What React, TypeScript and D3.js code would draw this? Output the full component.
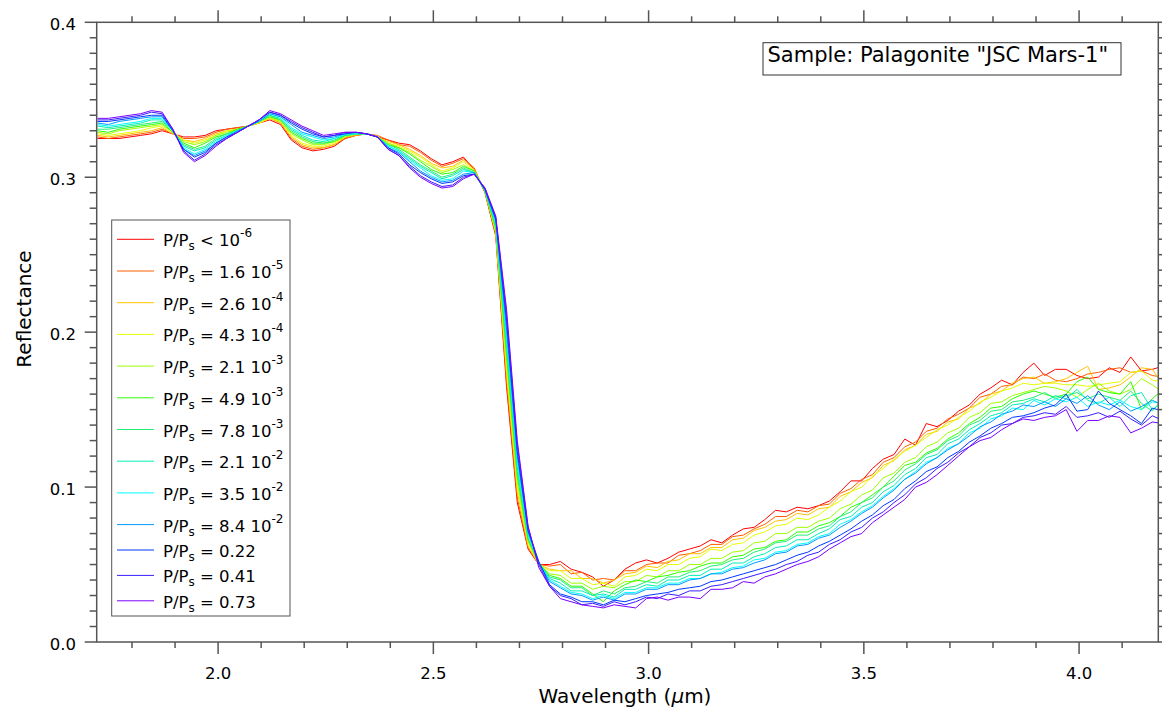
import React from 'react';
import * as d3 from 'd3';

const WAVELENGTH = [1.72,1.745,1.77,1.795,1.82,1.845,1.87,1.895,1.92,1.945,1.97,1.995,2.02,2.045,2.07,2.095,2.12,2.145,2.17,2.195,2.22,2.245,2.27,2.295,2.32,2.345,2.37,2.395,2.42,2.445,2.47,2.495,2.52,2.545,2.57,2.595,2.62,2.645,2.67,2.695,2.72,2.745,2.77,2.795,2.82,2.845,2.87,2.895,2.92,2.945,2.97,2.995,3.02,3.045,3.07,3.095,3.12,3.145,3.17,3.195,3.22,3.245,3.27,3.295,3.32,3.345,3.37,3.395,3.42,3.445,3.47,3.495,3.52,3.545,3.57,3.595,3.62,3.645,3.67,3.695,3.72,3.745,3.77,3.795,3.82,3.845,3.87,3.895,3.92,3.945,3.97,3.995,4.02,4.045,4.07,4.095,4.12,4.145,4.17,4.195];

const R_LT_1E6 = [.325,.325,.325,.326,.327,.328,.330,.328,.326,.326,.327,.330,.331,.332,.333,.335,.337,.334,.324,.319,.317,.318,.320,.325,.327,.328,.326,.324,.322,.321,.317,.312,.308,.310,.313,.305,.290,.262,.165,.090,.060,.050,
.050,.052,.047,.045,.042,.036,.040,.047,.051,.053,.051,.054,.058,.060,.062,.066,.064,.069,.073,.074,.079,.085,.084,.087,.086,.088,.091,.097,.104,.104,.112,.118,.121,.131,.127,.141,.139,.143,.149,.153,.160,.164,.169,.166,.174,.180,.172,.176,.176,.172,.170,.171,.177,.174,.184,.175,.176,.178];
const R_1_6E5 = [.326,.325,.326,.327,.328,.329,.331,.328,.325,.325,.326,.329,.331,.332,.333,.335,.338,.335,.325,.320,.318,.319,.321,.325,.327,.328,.327,.324,.321,.320,.316,.311,.307,.309,.312,.306,.290,.263,.169,.093,.061,.050,
.049,.050,.044,.045,.040,.041,.040,.046,.046,.050,.051,.051,.056,.057,.059,.063,.063,.068,.069,.073,.076,.081,.081,.085,.084,.088,.089,.096,.099,.105,.108,.116,.119,.126,.129,.136,.138,.144,.147,.151,.158,.160,.165,.166,.171,.170,.173,.169,.168,.170,.173,.174,.176,.177,.174,.175,.172,.171];
const R_2_6E4 = [.327,.326,.327,.328,.329,.330,.332,.328,.324,.323,.325,.328,.330,.331,.333,.335,.338,.335,.326,.321,.319,.319,.321,.326,.327,.328,.326,.323,.321,.318,.314,.309,.306,.307,.311,.305,.291,.264,.173,.097,.062,.050,
.047,.046,.046,.041,.041,.038,.040,.044,.045,.049,.048,.052,.053,.057,.057,.061,.061,.066,.067,.072,.074,.078,.079,.083,.082,.086,.087,.094,.097,.103,.106,.114,.117,.124,.127,.134,.136,.142,.144,.151,.154,.160,.162,.167,.170,.171,.167,.168,.170,.174,.178,.163,.164,.166,.171,.177,.176,.166];
const R_4_3E4 = [.328,.327,.328,.329,.330,.332,.333,.329,.324,.322,.324,.327,.330,.331,.333,.335,.338,.336,.327,.322,.320,.320,.322,.326,.328,.328,.326,.322,.320,.317,.313,.308,.304,.306,.310,.304,.291,.265,.177,.100,.064,.050,
.046,.046,.041,.041,.037,.038,.036,.042,.043,.047,.046,.050,.050,.054,.055,.060,.059,.063,.064,.069,.071,.075,.076,.080,.079,.082,.087,.091,.097,.100,.107,.112,.118,.123,.127,.132,.137,.140,.145,.149,.155,.158,.162,.164,.167,.166,.167,.167,.166,.166,.165,.166,.167,.168,.174,.175,.169,.168];
const R_2_1E3 = [.329,.328,.330,.331,.332,.333,.334,.329,.323,.321,.323,.327,.329,.331,.333,.336,.339,.336,.328,.324,.321,.321,.323,.326,.328,.328,.326,.322,.319,.316,.311,.307,.303,.305,.308,.304,.291,.266,.182,.103,.065,.050,
.044,.043,.038,.038,.034,.036,.035,.039,.039,.043,.042,.046,.046,.050,.050,.054,.054,.058,.059,.064,.065,.070,.070,.074,.074,.078,.080,.086,.089,.095,.098,.106,.109,.116,.119,.126,.129,.135,.138,.145,.148,.154,.155,.159,.161,.163,.165,.164,.162,.158,.163,.167,.162,.160,.163,.170,.166,.161];
const R_4_9E3 = [.330,.329,.331,.332,.333,.334,.335,.329,.322,.319,.322,.326,.328,.331,.333,.336,.339,.337,.329,.325,.322,.322,.323,.327,.328,.328,.326,.321,.319,.315,.310,.305,.302,.303,.307,.304,.291,.267,.186,.107,.066,.051,
.043,.041,.036,.036,.031,.026,.033,.037,.040,.039,.042,.043,.045,.046,.049,.051,.051,.055,.056,.060,.061,.065,.066,.071,.071,.075,.077,.081,.087,.090,.095,.100,.107,.114,.116,.122,.125,.131,.135,.141,.145,.151,.152,.157,.160,.162,.160,.158,.160,.168,.171,.163,.161,.160,.168,.150,.157,.163];
const R_7_8E3 = [.331,.331,.332,.333,.334,.335,.336,.330,.321,.318,.320,.325,.328,.330,.333,.336,.340,.337,.330,.326,.323,.322,.324,.327,.328,.328,.326,.321,.318,.313,.308,.304,.300,.302,.306,.303,.291,.268,.190,.110,.067,.051,
.042,.040,.035,.035,.030,.033,.031,.035,.036,.039,.038,.042,.042,.045,.046,.049,.050,.053,.054,.058,.060,.064,.065,.069,.069,.073,.075,.081,.084,.090,.093,.100,.104,.111,.115,.121,.124,.130,.133,.140,.143,.149,.150,.155,.156,.158,.161,.157,.159,.161,.157,.160,.158,.156,.162,.154,.149,.157];
const R_2_1E2 = [.333,.332,.333,.334,.335,.337,.337,.330,.320,.317,.319,.324,.327,.330,.333,.336,.340,.338,.331,.327,.324,.323,.325,.327,.328,.328,.326,.320,.317,.312,.307,.303,.299,.301,.305,.303,.292,.270,.194,.113,.069,.051,
.041,.038,.033,.033,.030,.031,.029,.034,.034,.037,.036,.040,.040,.043,.043,.047,.047,.051,.051,.055,.057,.061,.062,.066,.066,.070,.073,.079,.081,.087,.090,.097,.101,.108,.112,.119,.121,.128,.131,.137,.141,.146,.148,.153,.154,.157,.155,.159,.157,.163,.156,.154,.158,.152,.159,.161,.150,.155];
const R_3_5E2 = [.334,.333,.334,.335,.336,.338,.338,.330,.319,.315,.318,.323,.327,.330,.333,.336,.341,.339,.332,.328,.326,.324,.325,.328,.328,.328,.326,.320,.317,.311,.306,.301,.298,.299,.304,.303,.292,.271,.198,.117,.070,.051,
.040,.036,.032,.031,.028,.030,.028,.032,.032,.035,.035,.038,.038,.041,.041,.044,.045,.048,.049,.053,.054,.058,.059,.063,.064,.068,.070,.076,.079,.084,.088,.094,.099,.105,.110,.116,.119,.125,.128,.135,.138,.144,.146,.151,.150,.156,.153,.157,.155,.158,.152,.155,.153,.156,.152,.150,.155,.154];
const R_8_4E2 = [.335,.334,.336,.337,.338,.339,.339,.330,.318,.314,.317,.322,.326,.330,.333,.336,.341,.339,.334,.329,.327,.325,.326,.328,.329,.328,.326,.319,.316,.310,.304,.300,.297,.298,.302,.303,.292,.272,.202,.120,.071,.051,
.039,.035,.031,.030,.027,.029,.027,.031,.031,.034,.034,.037,.037,.040,.041,.044,.044,.047,.048,.051,.053,.057,.058,.062,.063,.067,.069,.074,.078,.083,.087,.093,.098,.105,.109,.115,.119,.124,.128,.133,.139,.142,.147,.149,.153,.152,.155,.152,.157,.154,.159,.153,.150,.155,.149,.152,.156,.153];
const R_0_22 = [.336,.336,.337,.338,.339,.340,.340,.330,.318,.313,.316,.322,.326,.329,.333,.337,.342,.340,.335,.331,.328,.326,.327,.328,.329,.328,.326,.319,.315,.308,.303,.299,.296,.297,.301,.302,.292,.273,.207,.123,.072,.052,
.037,.031,.029,.026,.026,.024,.027,.026,.028,.030,.031,.032,.034,.035,.036,.039,.040,.042,.044,.046,.048,.050,.053,.056,.058,.062,.065,.069,.073,.078,.082,.088,.092,.099,.104,.110,.113,.119,.123,.129,.133,.138,.141,.145,.146,.148,.151,.153,.160,.149,.150,.162,.154,.150,.146,.141,.151,.149];
const R_0_41 = [.337,.337,.338,.339,.340,.342,.341,.331,.317,.311,.315,.321,.325,.329,.333,.337,.342,.340,.336,.332,.329,.326,.327,.329,.329,.328,.326,.318,.314,.307,.301,.297,.294,.295,.300,.302,.293,.274,.211,.127,.074,.050,
.036,.030,.028,.024,.025,.023,.026,.024,.026,.029,.028,.031,.030,.033,.033,.036,.037,.039,.041,.043,.045,.047,.050,.052,.056,.058,.063,.066,.071,.074,.080,.084,.090,.095,.102,.106,.112,.116,.122,.126,.132,.135,.140,.141,.145,.146,.148,.147,.152,.145,.146,.148,.145,.149,.144,.140,.146,.143];
const R_0_73 = [.338,.338,.339,.340,.341,.343,.342,.331,.316,.310,.314,.320,.325,.329,.333,.337,.343,.341,.337,.333,.330,.327,.328,.329,.329,.328,.326,.318,.314,.306,.300,.296,.293,.294,.299,.302,.293,.275,.215,.130,.075,.048,
.036,.028,.026,.024,.023,.022,.024,.023,.022,.028,.029,.027,.029,.029,.028,.034,.034,.035,.039,.038,.042,.044,.047,.050,.052,.055,.060,.064,.068,.070,.077,.082,.087,.092,.100,.103,.108,.114,.120,.126,.130,.132,.137,.141,.144,.143,.145,.146,.150,.136,.143,.143,.146,.145,.135,.138,.142,.141];

const SERIES = [R_LT_1E6, R_1_6E5, R_2_6E4, R_4_3E4, R_2_1E3, R_4_9E3, R_7_8E3, R_2_1E2, R_3_5E2, R_8_4E2, R_0_22, R_0_41, R_0_73];
const COLORS = ['#ff0000', '#ff5c00', '#ffc400', '#e4ff00', '#9cff00', '#2cff00', '#22ee77', '#00f0b4', '#00ffff', '#0099ff', '#0038ff', '#3a1cff', '#7a00ff'];
const LEGEND_OP = ['<', '=', '=', '=', '=', '=', '=', '=', '=', '=', '=', '=', '='];
const LEGEND_VALUE = ['10', '1.6 10', '2.6 10', '4.3 10', '2.1 10', '4.9 10', '7.8 10', '2.1 10', '3.5 10', '8.4 10', '0.22', '0.41', '0.73'];
const LEGEND_EXP = ['-6', '-5', '-4', '-4', '-3', '-3', '-3', '-2', '-2', '-2', '', '', ''];
const X_MAJOR = [2.0, 2.5, 3.0, 3.5, 4.0];
const Y_MAJOR = [0.0, 0.1, 0.2, 0.3, 0.4];

const FONT = "'DejaVu Sans', Verdana, sans-serif";

export default function App() {
  const L = 96.7, R = 1158.3, T = 22.3, B = 642;
  const x = d3.scaleLinear().domain([1.718, 4.184]).range([L, R]);
  const y = d3.scaleLinear().domain([0, 0.4]).range([B, T]);
  const line = d3.line<number>().x((_, i) => x(WAVELENGTH[i])).y((d) => y(d));

  const xMinor = d3.range(18, 42).map((v) => v / 10).filter((v) => X_MAJOR.every((m) => Math.abs(m - v) > 1e-6));
  const yMinor = d3.range(0, 41).map((v) => v / 100).filter((v) => Y_MAJOR.every((m) => Math.abs(m - v) > 1e-6));
  const axisColor = '#555';

  const legendY: number[] = [];
  let cy = 239.3;
  LEGEND_EXP.forEach((e, i) => {
    if (i > 0) cy += e ? 31.7 : 25.4;
    legendY.push(cy);
  });

  return (
    <svg width={1162} height={711} style={{ position: 'absolute', left: 0, top: 0, background: '#fff' }} fontFamily={FONT}>
      <defs>
        <clipPath id="plotclip">
          <rect x={L} y={T} width={R - L} height={B - T} />
        </clipPath>
      </defs>
      <rect x={0} y={0} width={1162} height={711} fill="#fff" />

      <g clipPath="url(#plotclip)">
        {SERIES.map((s, k) => (
          <path key={k} d={line(s) || ''} fill="none" stroke={COLORS[k]} strokeWidth={1} strokeLinejoin="round" />
        ))}
      </g>

      <rect x={L} y={T} width={R - L} height={B - T} fill="none" stroke={axisColor} strokeWidth={1.5} />

      {X_MAJOR.map((v) => (
        <g key={'xM' + v}>
          <line x1={x(v)} x2={x(v)} y1={B} y2={B + 12} stroke={axisColor} strokeWidth={1.5} />
          <line x1={x(v)} x2={x(v)} y1={T} y2={T - 12} stroke={axisColor} strokeWidth={1.5} />
          <text x={x(v)} y={679} textAnchor="middle" fontSize={16.5} fill="#000">{v.toFixed(1)}</text>
        </g>
      ))}
      {xMinor.map((v) => (
        <g key={'xm' + v}>
          <line x1={x(v)} x2={x(v)} y1={B} y2={B + 6} stroke={axisColor} strokeWidth={1.5} />
          <line x1={x(v)} x2={x(v)} y1={T} y2={T - 6} stroke={axisColor} strokeWidth={1.5} />
        </g>
      ))}

      {Y_MAJOR.map((v) => (
        <g key={'yM' + v}>
          <line x1={L} x2={L - 12} y1={y(v)} y2={y(v)} stroke={axisColor} strokeWidth={1.5} />
          <line x1={R} x2={R + 12} y1={y(v)} y2={y(v)} stroke={axisColor} strokeWidth={1.5} />
          <text x={76} y={y(v) + 8} textAnchor="end" fontSize={16.5} fill="#000">{v.toFixed(1)}</text>
        </g>
      ))}
      {yMinor.map((v) => (
        <g key={'ym' + v}>
          <line x1={L} x2={L - 7} y1={y(v)} y2={y(v)} stroke={axisColor} strokeWidth={1.5} />
          <line x1={R} x2={R + 7} y1={y(v)} y2={y(v)} stroke={axisColor} strokeWidth={1.5} />
        </g>
      ))}

      <text x={625} y={703} textAnchor="middle" fontSize={20} fill="#000">
        Wavelength (<tspan fontStyle="italic">µ</tspan>m)
      </text>
      <text transform="translate(31,309) rotate(-90)" textAnchor="middle" fontSize={20} fill="#000">Reflectance</text>

      <rect x={763} y={42.7} width={358} height={32.3} fill="#fff" stroke="#333" strokeWidth={1} />
      <text x={767.5} y={61.5} fontSize={21} fill="#000">Sample: Palagonite "JSC Mars-1"</text>

      <rect x={111.7} y={220} width={178.3} height={396} fill="#fff" stroke="#555" strokeWidth={1} />
      {LEGEND_VALUE.map((val, i) => (
        <g key={'lg' + i}>
          <line x1={117} x2={154} y1={legendY[i]} y2={legendY[i]} stroke={COLORS[i]} strokeWidth={1} />
          <text x={163} y={legendY[i] + 7} fontSize={16.5} fill="#000">
            P/P<tspan fontSize={12} dy={4}>s</tspan>
            <tspan dy={-4}>{' ' + LEGEND_OP[i] + ' ' + val}</tspan>
            {LEGEND_EXP[i] ? <tspan fontSize={12} dy={-9}>{LEGEND_EXP[i]}</tspan> : null}
          </text>
        </g>
      ))}
    </svg>
  );
}
